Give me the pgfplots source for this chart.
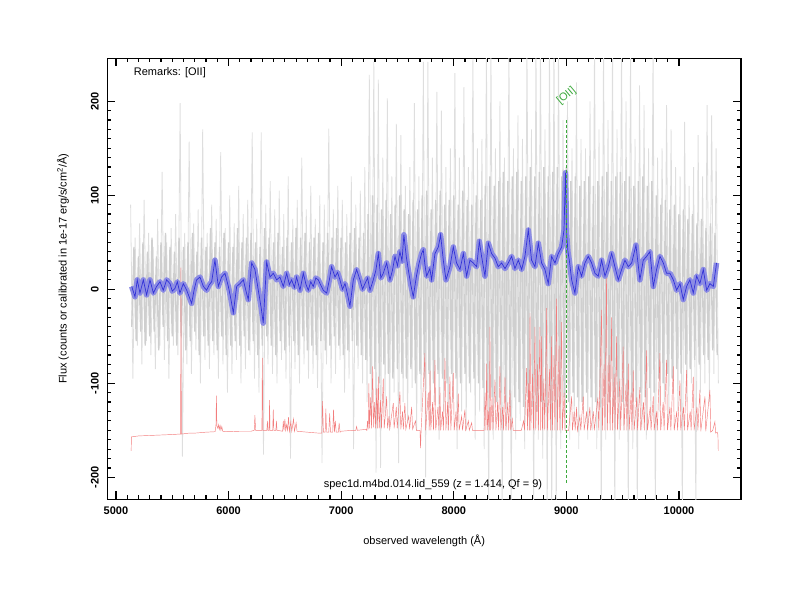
\documentclass[border=0pt]{standalone}
\usepackage{fontspec}
\setmainfont{Liberation Sans}
\usepackage{pgfplots}
\pgfplotsset{compat=1.18}
\definecolor{skyred}{RGB}{242,125,125}
\definecolor{bandblue}{RGB}{140,140,228}
\definecolor{lineblue}{RGB}{50,50,215}
\definecolor{oiigreen}{RGB}{60,170,60}
\begin{document}
\begin{tikzpicture}
\path[use as bounding box] (0,0) rectangle (800pt,600pt);
\begin{axis}[
  at={(107.3pt,100.7pt)}, anchor=south west,
  width=633.7pt, height=441pt, scale only axis,
  xmin=4923, xmax=10551, ymin=-223.4, ymax=245.7,
  xtick={5000,6000,7000,8000,9000,10000},
  ytick={-200,-100,0,100,200},
  minor x tick num=9, minor y tick num=9,
  tick align=inside,
  major tick length=8pt, minor tick length=4pt,
  axis line style={line width=1.5pt},
  every tick/.style={black, line width=1.2pt},
  scaled x ticks=false, scaled y ticks=false,
  /pgf/number format/1000 sep={},
  /pgf/number format/assume math mode=true,
  tick label style={font=\fontsize{11}{13}\selectfont\bfseries},
  xticklabel shift=4pt,
  yticklabel style={rotate=90, anchor=south},
  yticklabel shift=5pt,
  xlabel={observed wavelength (Å)},
  xlabel style={at={(axis description cs:0.5,-0.094)}, anchor=center, font=\fontsize{11}{13}\selectfont},
  ylabel={Flux (counts or calibrated in 1e-17 erg/s/cm\textsuperscript{2}/Å)},
  ylabel style={at={(axis description cs:-0.070,0.523)}, anchor=center, rotate=0, font=\fontsize{11}{13}\selectfont},
]
% gray individual spectrum (outer pixels)
\addplot[black!13, line width=0.8pt] coordinates {
(5130,90) (5150,-95) (5170,55) (5190,-60) (5210,70) (5230,-80) (5250,95) (5270,-55) (5290,60) (5310,-70)
(5330,45) (5350,-85) (5370,75) (5390,-60) (5410,125) (5430,-75) (5450,50) (5470,-95) (5490,65) (5510,-60)
(5530,80) (5550,-70) (5570,198) (5590,-178) (5610,60) (5630,-80) (5650,157) (5670,-90) (5690,70) (5710,-65)
(5730,85) (5750,-100) (5770,170) (5790,-75) (5810,60) (5830,-85) (5850,90) (5870,-70) (5890,75) (5910,-95)
(5930,146) (5950,-80) (5970,65) (5990,-110) (6010,100) (6030,-90) (6050,70) (6070,-75) (6090,110) (6110,-100)
(6130,80) (6150,-85) (6170,95) (6190,-70) (6210,167) (6230,-95) (6250,75) (6270,-110) (6290,167) (6310,-176)
(6330,90) (6350,-80) (6370,115) (6390,-90) (6410,85) (6430,-100) (6450,105) (6470,-75) (6490,80) (6510,-95)
(6530,120) (6550,-180) (6570,75) (6590,-85) (6610,95) (6630,-100) (6650,140) (6670,-80) (6690,85) (6710,-95)
(6730,110) (6750,-90) (6770,75) (6790,-105) (6810,100) (6830,-185) (6850,90) (6870,-80) (6890,171) (6910,-100)
(6930,85) (6950,-90) (6970,110) (6990,-75) (7010,95) (7030,-110) (7050,80) (7070,-95) (7090,120) (7110,-170)
(7130,90) (7150,-85) (7170,105) (7190,-100) (7210,130) (7230,-120) (7250,228) (7270,-140) (7290,242) (7310,-195)
(7330,223) (7350,-190) (7370,140) (7390,-130) (7410,203) (7430,-150) (7450,120) (7470,-110) (7490,176) (7510,-185)
(7530,164) (7550,-120) (7570,110) (7590,-140) (7610,130) (7630,-105) (7650,198) (7670,-150) (7690,120) (7710,-130)
(7730,242) (7750,-200) (7770,242) (7790,-140) (7810,140) (7830,-120) (7850,210) (7870,-160) (7890,190) (7910,-130)
(7930,130) (7950,-150) (7970,150) (7990,-120) (8010,230) (8030,-170) (8050,140) (8070,-130) (8090,215) (8110,-150)
(8130,130) (8150,-110) (8170,245) (8190,-160) (8210,150) (8230,-130) (8250,160) (8270,-170) (8290,260) (8310,-240)
(8330,260) (8350,-160) (8370,150) (8390,-140) (8410,200) (8430,-240) (8450,140) (8470,-150) (8490,260) (8510,-240)
(8530,150) (8550,-160) (8570,185) (8590,-140) (8610,160) (8630,-170) (8650,260) (8670,-150) (8690,170) (8710,-240)
(8730,260) (8750,-160) (8770,260) (8790,-180) (8810,170) (8830,-240) (8850,260) (8870,-240) (8890,260) (8910,-240)
(8930,260) (8950,-170) (8970,180) (8990,-150) (9010,200) (9030,-160) (9050,150) (9070,-140) (9090,220) (9110,-170)
(9130,160) (9150,-130) (9170,150) (9190,-160) (9210,200) (9230,-150) (9250,260) (9270,-170) (9290,170) (9310,-240)
(9330,260) (9350,-160) (9370,180) (9390,-150) (9410,260) (9430,-240) (9450,170) (9470,-160) (9490,260) (9510,-150)
(9530,200) (9550,-240) (9570,260) (9590,-170) (9610,160) (9630,-240) (9650,217) (9670,-150) (9690,196) (9710,-160)
(9730,150) (9750,-140) (9770,260) (9790,-240) (9810,140) (9830,-130) (9850,150) (9870,-120) (9890,196) (9910,-140)
(9930,170) (9950,-110) (9970,130) (9990,-130) (10010,120) (10030,-240) (10050,178) (10070,-120) (10090,110) (10110,-100)
(10130,130) (10150,-240) (10170,164) (10190,-110) (10210,120) (10230,-100) (10250,196) (10270,-120) (10290,185) (10310,-90)
(10330,150) (10350,-100)};
% gray individual spectrum (dense core pixels)
\addplot[black!19, line width=1.4pt] coordinates {
(5140,-40) (5160,45) (5180,-55) (5200,35) (5220,-45) (5240,50) (5260,-60) (5280,40) (5300,-50) (5320,55)
(5340,-45) (5360,35) (5380,-65) (5400,50) (5420,-40) (5440,60) (5460,-55) (5480,45) (5500,-50) (5520,40)
(5540,-60) (5560,55) (5580,-50) (5600,45) (5620,-65) (5640,50) (5660,-55) (5680,60) (5700,-45) (5720,40)
(5740,-70) (5760,55) (5780,-50) (5800,45) (5820,-60) (5840,65) (5860,-55) (5880,50) (5900,-65) (5920,45)
(5940,-50) (5960,60) (5980,-70) (6000,50) (6020,-60) (6040,45) (6060,-55) (6080,65) (6100,-60) (6120,50)
(6140,-50) (6160,55) (6180,-65) (6200,60) (6220,-55) (6240,50) (6260,-70) (6280,45) (6300,-60) (6320,65)
(6340,-50) (6360,55) (6380,-60) (6400,50) (6420,-70) (6440,60) (6460,-55) (6480,45) (6500,-65) (6520,55)
(6540,-60) (6560,50) (6580,-55) (6600,65) (6620,-70) (6640,55) (6660,-50) (6680,60) (6700,-65) (6720,50)
(6740,-60) (6760,55) (6780,-70) (6800,60) (6820,-55) (6840,50) (6860,-65) (6880,60) (6900,-60) (6920,55)
(6940,-50) (6960,65) (6980,-60) (7000,55) (7020,-70) (7040,50) (7060,-65) (7080,60) (7100,-55) (7120,65)
(7140,-60) (7160,55) (7180,-70) (7200,60) (7220,-75) (7240,80) (7260,-90) (7280,100) (7300,-85) (7320,90)
(7340,-100) (7360,85) (7380,-80) (7400,95) (7420,-90) (7440,80) (7460,-95) (7480,90) (7500,-85) (7520,100)
(7540,-90) (7560,85) (7580,-95) (7600,80) (7620,-85) (7640,95) (7660,-100) (7680,85) (7700,-90) (7720,100)
(7740,-95) (7760,105) (7780,-90) (7800,85) (7820,-100) (7840,95) (7860,-90) (7880,105) (7900,-95) (7920,90)
(7940,-100) (7960,95) (7980,-90) (8000,100) (8020,-95) (8040,90) (8060,-100) (8080,105) (8100,-90) (8120,95)
(8140,-100) (8160,90) (8180,-95) (8200,100) (8220,-100) (8240,95) (8260,-105) (8280,110) (8300,-110) (8320,120)
(8340,-115) (8360,110) (8380,-120) (8400,115) (8420,-110) (8440,125) (8460,-120) (8480,115) (8500,-125) (8520,120)
(8540,-115) (8560,125) (8580,-120) (8600,115) (8620,-125) (8640,120) (8660,-115) (8680,130) (8700,-125) (8720,120)
(8740,-130) (8760,125) (8780,-120) (8800,130) (8820,-125) (8840,120) (8860,-130) (8880,125) (8900,-120) (8920,130)
(8940,-125) (8960,120) (8980,-115) (9000,130) (9020,-120) (9040,115) (9060,-110) (9080,120) (9100,-115) (9120,110)
(9140,-120) (9160,115) (9180,-110) (9200,120) (9220,-115) (9240,110) (9260,-120) (9280,115) (9300,-125) (9320,120)
(9340,-115) (9360,125) (9380,-120) (9400,115) (9420,-125) (9440,120) (9460,-115) (9480,125) (9500,-120) (9520,115)
(9540,-125) (9560,120) (9580,-115) (9600,110) (9620,-120) (9640,115) (9660,-110) (9680,120) (9700,-115) (9720,110)
(9740,-105) (9760,115) (9780,-110) (9800,100) (9820,-95) (9840,90) (9860,-100) (9880,95) (9900,-90) (9920,85)
(9940,-95) (9960,90) (9980,-85) (10000,80) (10020,-90) (10040,85) (10060,-80) (10080,75) (10100,-85) (10120,80)
(10140,-75) (10160,70) (10180,-80) (10200,75) (10220,-70) (10240,65) (10260,-75) (10280,70) (10300,-65) (10320,60)
(10340,-70)};
% sky spectrum
\addplot[skyred, line width=0.45pt] coordinates {
(5135,-172) (5137,-157) (5200,-156) (5300,-155.5) (5400,-155) (5500,-154.5) (5568,-154) (5574,-154) (5577,23) (5581,-154)
(5650,-153) (5700,-153) (5800,-152) (5880,-151.5) (5888,-145) (5892,-113) (5896,-145) (5905,-148) (5912,-144) (5918,-149)
(5925,-145) (5932,-150) (5940,-146) (5948,-151) (6000,-151.5) (6100,-151) (6200,-151) (6228,-150) (6234,-134) (6240,-150)
(6296,-150) (6300,-73) (6305,-150) (6340,-150) (6345,-140) (6350,-150) (6360,-150) (6364,-118) (6368,-150) (6392,-150)
(6397,-128) (6402,-150) (6420,-150) (6425,-140) (6430,-150) (6480,-151) (6486,-140) (6492,-150) (6500,-138) (6507,-150)
(6516,-144) (6524,-150) (6532,-136) (6540,-151) (6553,-141) (6561,-151) (6577,-138) (6585,-151) (6600,-142) (6608,-151)
(6700,-152) (6800,-153) (6828,-153) (6835,-119) (6842,-152) (6858,-152) (6864,-127) (6870,-152) (6890,-152) (6898,-132)
(6905,-152) (6925,-152) (6932,-128) (6940,-152) (6948,-140) (6956,-152) (6975,-152) (6982,-142) (6990,-152) (7000,-151)
(7100,-150) (7130,-150) (7137,-146) (7144,-150) (7220,-149) (7228,-150) (7234,-140) (7240,-149) (7246,-100) (7252,-148)
(7262,-115) (7270,-148) (7280,-82) (7288,-147) (7298,-120) (7306,-148) (7316,-105) (7324,-148) (7330,-93) (7338,-148)
(7350,-118) (7358,-148) (7374,-95) (7382,-148) (7395,-130) (7404,-114) (7412,-148) (7425,-135) (7432,-148) (7463,-121)
(7470,-148) (7490,-125) (7498,-148) (7522,-109) (7530,-149) (7545,-130) (7552,-149) (7566,-121) (7574,-149) (7600,-135)
(7608,-149) (7626,-125) (7634,-149) (7660,-140) (7668,-150) (7700,-150) (7705,-169) (7710,-150) (7744,-68) (7750,-150)
(7774,-110) (7782,-150) (7789,-86) (7796,-150) (7812,-120) (7820,-150) (7833,-75) (7840,-150) (7860,-125) (7868,-150)
(7877,-104) (7884,-150) (7900,-130) (7908,-150) (7922,-73) (7930,-150) (7946,-120) (7952,-150) (7966,-93) (7974,-150)
(7996,-89) (8004,-150) (8020,-130) (8028,-150) (8040,-111) (8048,-150) (8070,-135) (8078,-150) (8099,-128) (8106,-150)
(8130,-140) (8138,-150) (8159,-142) (8166,-150) (8200,-150) (8270,-150) (8278,-110) (8286,-150) (8292,-79) (8300,-150)
(8310,-130) (8316,-150) (8321,-40) (8328,-150) (8340,-115) (8348,-150) (8366,-96) (8374,-150) (8390,-120) (8398,-150)
(8410,-82) (8418,-150) (8435,-125) (8442,-150) (8455,-93) (8462,-150) (8480,-120) (8488,-150) (8499,-107) (8506,-150)
(8520,-138) (8528,-150) (8600,-150) (8620,-140) (8628,-150) (8647,-84) (8654,-150) (8665,-100) (8672,-150) (8677,-25)
(8684,-150) (8700,-90) (8708,-150) (8721,-40) (8728,-150) (8745,-80) (8752,-150) (8765,-40) (8772,-150) (8780,-50)
(8788,-150) (8800,-95) (8808,-150) (8825,-20) (8832,-150) (8850,-85) (8858,-150) (8869,-50) (8876,-150) (8890,-70)
(8898,-150) (8913,-10) (8920,-150) (8935,-60) (8942,-150) (8958,-35) (8965,-150) (8980,-110) (8988,-150) (9020,-150)
(9047,-114) (9054,-150) (9070,-130) (9078,-150) (9091,-125) (9098,-150) (9120,-135) (9128,-150) (9150,-114) (9158,-150)
(9180,-130) (9188,-150) (9209,-125) (9216,-150) (9240,-130) (9248,-150) (9280,-115) (9288,-150) (9313,-22) (9320,-150)
(9335,-80) (9342,-150) (9357,15) (9364,-150) (9380,-70) (9388,-150) (9402,-30) (9410,-150) (9425,-90) (9432,-150)
(9446,-50) (9454,-150) (9475,-95) (9482,-150) (9505,-61) (9512,-150) (9530,-100) (9538,-150) (9550,-79) (9558,-150)
(9575,-110) (9582,-150) (9594,-86) (9602,-150) (9625,-115) (9632,-150) (9653,-104) (9660,-150) (9685,-120) (9692,-150)
(9713,-65) (9720,-150) (9745,-125) (9752,-150) (9772,-114) (9780,-150) (9800,-130) (9808,-150) (9831,-68) (9838,-150)
(9860,-120) (9868,-150) (9890,-75) (9898,-150) (9920,-125) (9928,-150) (9950,-82) (9958,-150) (9980,-130) (9988,-150)
(10009,-97) (10016,-150) (10040,-125) (10048,-150) (10068,-86) (10076,-150) (10100,-130) (10108,-150) (10127,-93) (10134,-150)
(10160,-125) (10168,-150) (10186,-107) (10194,-151) (10231,-114) (10238,-151) (10275,-107) (10282,-152) (10300,-150) (10319,-141)
(10326,-153) (10340,-152) (10346,-155) (10349,-172)};
% smoothed spectrum: error band and line
\pgfplotstableread{
x y
5140 3
5169 -8
5189 10
5213 -4
5243 10
5272 -6
5302 10
5332 -4
5361 3
5391 8
5420 -1
5450 10
5480 6
5500 -2
5524 1
5545 8
5568 -4
5598 6
5628 -1
5650 -8
5672 -15
5695 0
5716 10
5746 13
5776 3
5805 -1
5830 5
5850 8
5879 31
5909 3
5938 13
5968 17
5998 3
6020 -10
6042 -25
6072 3
6101 6
6131 10
6155 -2
6175 -11
6205 28
6234 21
6264 -1
6290 -20
6308 -36
6338 29
6368 13
6397 17
6427 10
6456 13
6486 3
6516 17
6540 5
6560 10
6585 2
6604 13
6634 -1
6664 17
6688 5
6708 -1
6730 8
6752 3
6775 12
6797 10
6820 4
6841 -1
6871 -4
6895 10
6915 24
6945 13
6968 18
6989 10
7012 0
7034 6
7056 -5
7078 -18
7108 10
7137 21
7167 10
7190 0
7211 6
7235 12
7256 -1
7285 10
7308 20
7330 38
7352 12
7374 17
7404 28
7433 10
7455 20
7478 35
7500 25
7522 40
7540 30
7557 58
7578 35
7596 21
7618 5
7640 -8
7670 15
7692 28
7714 38
7729 42
7744 26
7759 14
7788 22
7803 10
7833 38
7863 45
7883 58
7907 31
7931 10
7966 24
7996 45
8025 28
8055 21
8085 38
8114 14
8144 31
8173 28
8203 24
8227 51
8247 35
8277 14
8307 49
8336 38
8366 33
8395 24
8425 28
8455 22
8484 28
8514 35
8543 22
8573 31
8603 21
8632 35
8662 63
8691 31
8721 24
8751 49
8780 28
8810 21
8839 6
8869 35
8899 28
8928 38
8958 45
8979 63
8992 124
9002 60
9014 40
9026 31
9047 10
9076 -4
9106 24
9135 14
9165 28
9195 35
9224 28
9254 17
9283 14
9313 31
9343 14
9372 24
9402 38
9431 24
9461 10
9491 21
9520 31
9550 24
9580 28
9618 47
9653 10
9683 31
9713 35
9742 40
9772 3
9801 21
9831 35
9861 28
9890 17
9920 17
9950 10
9979 -1
10009 6
10038 -11
10068 3
10097 10
10127 -4
10157 14
10186 6
10216 21
10246 -1
10275 6
10305 3
10334 28
}\bluetable
\addplot[bandblue, line width=5.5pt, line join=round] table {\bluetable};
\addplot[lineblue, line width=0.7pt] table {\bluetable};
% [OII] marker
\addplot[oiigreen, line width=1pt, dash pattern=on 3pt off 2pt] coordinates {(8997,-206) (8997,182)};
\node[rotate=40, text=oiigreen, font=\fontsize{11}{13}\selectfont] at (axis cs:9001,206) {[OII]};
\node[anchor=west, font=\fontsize{11}{13}\selectfont] at (axis cs:5128,230) {Remarks: [OII]};
\node[anchor=center, font=\fontsize{11}{13}\selectfont] at (axis cs:7815,-208) {spec1d.m4bd.014.lid\_559 (z = 1.414, Qf = 9)};
\end{axis}
\end{tikzpicture}
\end{document}
